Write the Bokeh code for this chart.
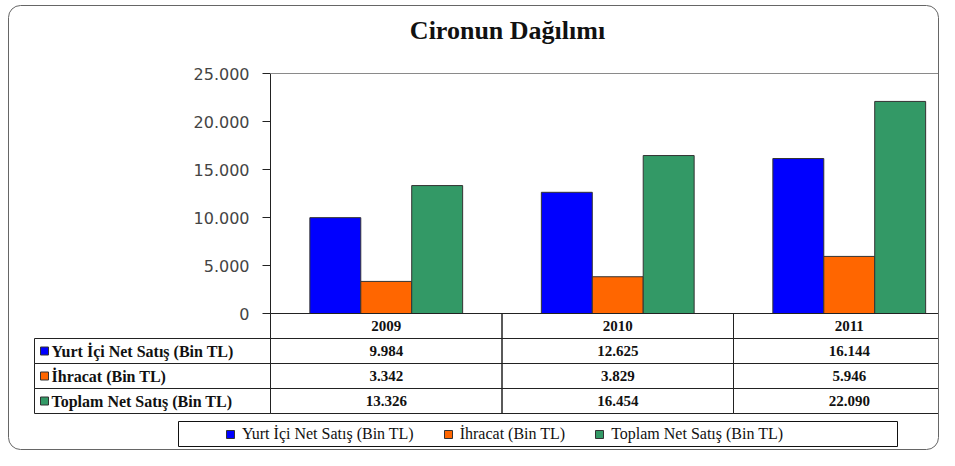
from bokeh.plotting import figure
from bokeh.models import Range1d, Legend, LegendItem, BoxAnnotation
from bokeh.embed import file_html
from bokeh.resources import INLINE
from bokeh.core.properties import value

# ---- data ----
title_text = "Cironun Dağılımı"
years = ["2009", "2010", "2011"]
series_names = ["Yurt İçi Net Satış (Bin TL)", "İhracat (Bin TL)", "Toplam Net Satış (Bin TL)"]
yurt_ici = [9984, 12625, 16144]
ihracat = [3342, 3829, 5946]
toplam = [13326, 16454, 22090]
y_ticks = [0, 5000, 10000, 15000, 20000, 25000]
colors = ["#0000FF", "#FF6600", "#339966"]
series = [yurt_ici, ihracat, toplam]


def tr(n):
    return f"{n:,}".replace(",", ".")


# ---- layout constants (canvas pixels) ----
CW, CH = 939, 450
AXIS_X = 270          # y-axis position
TABLE_X = 34          # table left edge
CAT_PX = 231.5        # width of one year column
TOP_Y = 73            # pixel row of the top value
ZERO_Y = 313          # pixel row of zero
ROW_PX = 25           # table row height
TITLE_X, TITLE_Y = 507, 30
FRAME_L, FRAME_R, FRAME_T, FRAME_B = 8, 938, 5, 449
LEG_L, LEG_R, LEG_T, LEG_B = 178, 897, 421, 446

vpp = y_ticks[-1] / (ZERO_Y - TOP_Y)
x_start = -AXIS_X / CAT_PX
x_end = (CW - AXIS_X) / CAT_PX
y_start = -(CH - ZERO_Y) * vpp
y_end = y_ticks[-1] + TOP_Y * vpp
label_units = (AXIS_X - TABLE_X) / CAT_PX
bar_w = 0.22
offsets = [-bar_w, 0.0, bar_w]


def px_x(px):
    return (px - AXIS_X) / CAT_PX


def px_y(py):
    return y_ticks[-1] + (TOP_Y - py) * vpp


p = figure(width=CW, height=CH, x_range=Range1d(x_start, x_end), y_range=Range1d(y_start, y_end),
           output_backend="svg", toolbar_location=None,
           min_border_left=0, min_border_right=0, min_border_top=0, min_border_bottom=0,
           x_axis_location=None, y_axis_location=None, outline_line_color=None,
           background_fill_color="white", border_fill_color="white")
p.extra_y_ranges = {"table": Range1d((CH - ZERO_Y) / ROW_PX - 0.5, -ZERO_Y / ROW_PX - 0.5)}
p.xgrid.visible = False
p.ygrid.visible = False

# title
p.text(x=[px_x(TITLE_X)], y=[px_y(TITLE_Y)], text=[title_text],
       text_align="center", text_baseline="middle", text_font=value("Liberation Serif"),
       text_font_style="bold", text_font_size="26px", text_color="#111111")

# value axis (drawn from tick list)
top_val = y_ticks[-1]
p.segment(x0=[0], y0=[0], x1=[0], y1=[top_val], line_color="#222222", line_width=1)
p.segment(x0=[-8 / CAT_PX] * len(y_ticks), y0=y_ticks, x1=[0] * len(y_ticks), y1=y_ticks,
          line_color="#222222", line_width=1)
p.text(x=[0] * len(y_ticks), y=y_ticks, text=[tr(t) for t in y_ticks], x_offset=-21,
       text_align="right", text_baseline="middle", text_font=value("DejaVu Sans"),
       text_font_size="16px", text_color="#444444")
p.segment(x0=[0], y0=[top_val], x1=[x_end], y1=[top_val], line_color="#8a8a8a", line_width=1)

# bars
for k in range(3):
    xs = [i + 0.5 + offsets[k] for i in range(len(years))]
    p.vbar(x=xs, top=series[k], bottom=0, width=bar_w, fill_color=colors[k],
           line_color="#333333", line_width=1)

p.segment(x0=[0], y0=[0], x1=[x_end], y1=[0], line_color="#222222", line_width=1)

# data table
cx = [i + 0.5 for i in range(len(years))]
txt = dict(text_font=value("Liberation Serif"), text_font_style="bold",
           text_color="#111111", text_baseline="middle", y_range_name="table")
p.rect(x=cx, y=[0] * 3, width=1, height=1, fill_color=None, line_color="#222222", y_range_name="table")
p.text(x=cx, y=[0] * 3, text=years, text_align="center", text_font_size="15px", **txt)

legend_items = []
for k in range(3):
    r = k + 1
    p.rect(x=[-label_units / 2], y=[r], width=label_units, height=1, fill_color=None,
           line_color="#222222", y_range_name="table")
    p.rect(x=cx, y=[r] * 3, width=1, height=1, fill_color=None, line_color="#222222",
           y_range_name="table")
    sq = p.scatter(x=[-label_units + 10 / CAT_PX], y=[r], marker="square", size=8,
                   fill_color=colors[k], line_color="#333333", y_range_name="table")
    p.text(x=[-label_units], y=[r], text=[series_names[k]], x_offset=17, text_align="left",
           text_font_size="16px", **txt)
    p.text(x=cx, y=[r] * 3, text=[tr(v) for v in series[k]], text_align="center",
           text_font_size="15px", **txt)
    legend_items.append(LegendItem(label=series_names[k], renderers=[sq]))

# legend box and legend
p.add_layout(BoxAnnotation(left=px_x(LEG_L), right=px_x(LEG_R), top=px_y(LEG_T), bottom=px_y(LEG_B),
                           fill_color=None, line_color="#111111", line_alpha=1.0, line_width=1))
legend = Legend(items=legend_items, orientation="horizontal",
                location=(LEG_L + 42, CH - (LEG_T + LEG_B) / 2 - 10),
                border_line_color=None, background_fill_alpha=0.0,
                label_text_font="Liberation Serif", label_text_font_size="16px",
                label_text_color="#111111", glyph_width=20, glyph_height=20,
                label_standoff=2, spacing=24, padding=0, margin=0)
p.add_layout(legend)

# rounded outer frame
p.add_layout(BoxAnnotation(left=px_x(FRAME_L), right=px_x(FRAME_R), top=px_y(FRAME_T),
                           bottom=px_y(FRAME_B), fill_color=None, line_color="#666666",
                           line_alpha=1.0, line_width=1, border_radius=12))

open("out.html", "w").write(file_html(p, INLINE))
